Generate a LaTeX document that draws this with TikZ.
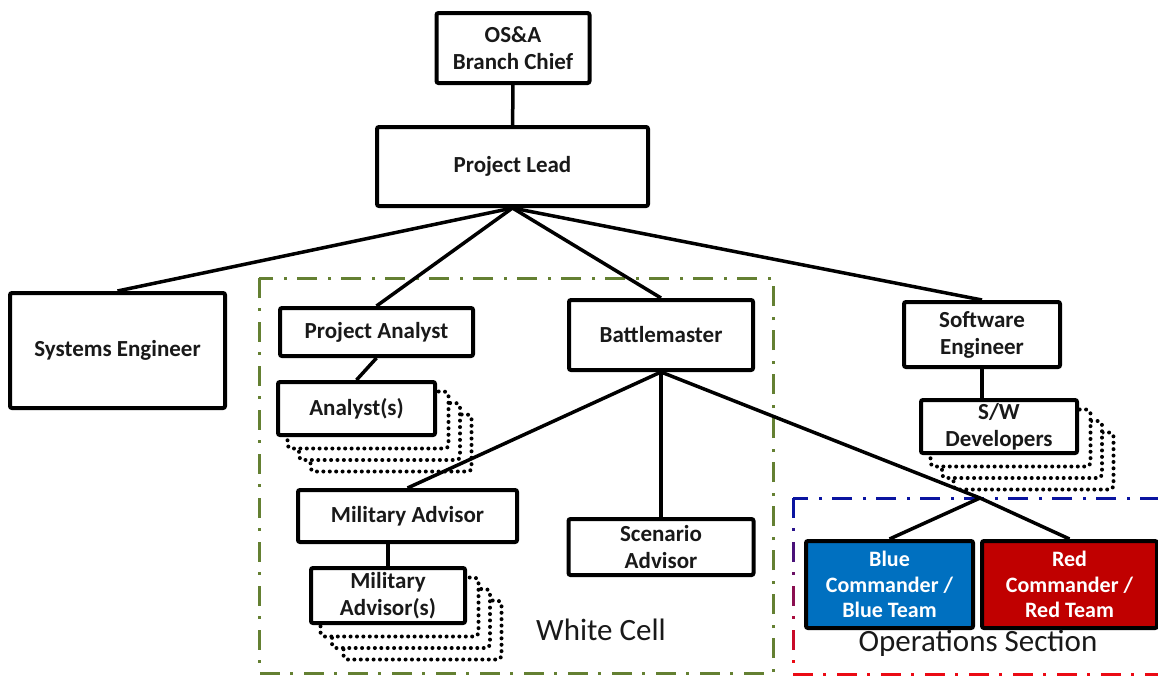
\documentclass[tikz,border=0pt]{standalone}
\usepackage{fontspec}
\setmainfont{Carlito}
\usepackage{xcolor}
\definecolor{CellGreen}{RGB}{100,128,50}
\definecolor{OpsBlue}{RGB}{10,20,160}
\definecolor{OpsRed}{RGB}{235,10,20}
\definecolor{TeamBlue}{RGB}{0,112,192}
\definecolor{TeamRed}{RGB}{192,0,0}
\usepackage{tikz}
\usetikzlibrary{
  positioning,
  calc,
  backgrounds
}
\tikzset{
  % Standard role box
  rolebox/.style={
    draw=black,
    line width=4pt,
    fill=white,
    rounded corners=2pt,
    inner sep=0pt,
    align=center,
    font=\fontsize{23}{27}\selectfont\bfseries,
    text=black!90
  },
  % Team boxes (filled)
  teambox/.style={rolebox, text=white, font=\fontsize{22}{25.5}\selectfont\bfseries},
  % Dotted copies behind a box
  stackcopy/.style={
    draw=black,
    line width=4pt,
    line cap=round,
    dash pattern=on 0pt off 6.4pt,
    fill=white,
    rounded corners=4pt
  },
  % Standard connector
  link/.style={
    draw=black,
    line width=3.5pt
  },
  % Group frames
  cellframe/.style={
    line width=3pt,
    dash pattern=on 20pt off 10pt on 3pt off 11pt
  },
  % Group label
  glabel/.style={
    font=\fontsize{31}{34}\selectfont,
    text=black!90
  }
}

\begin{document}
\begin{tikzpicture}[x=1pt,y=-1pt]
  \useasboundingbox (0,0) rectangle (1158,675);
  % group frames
  \draw[cellframe, draw=CellGreen] (259,278) rectangle (773,673);
  \draw[cellframe, draw=OpsBlue] (1160,498) -- (793,498);
  \foreach \i in {0,...,7} {
    \pgfmathtruncatemacro\p{\i*100/7}
    \pgfmathtruncatemacro\ph{22*\i}
    \draw[cellframe, draw=OpsRed!\p!OpsBlue, dash phase=\ph pt] (793,{498+22*\i}) -- (793,{520+22*\i});
  }
  \draw[cellframe, draw=OpsRed] (793,674) -- (1160,674);

  % boxes
  \node[rolebox, minimum width=153, minimum height=70] (chief) at (513,48) {OS\&A\\Branch Chief};
  \node[rolebox, minimum width=271, minimum height=79] (lead) at (512.5,166.5) {Project Lead};
  \node[rolebox, minimum width=215, minimum height=115] (syseng) at (117.5,350.5) {Systems Engineer};
  \node[rolebox, minimum width=193, minimum height=48] (panalyst) at (376.5,332) {Project Analyst};
  \node[rolebox, minimum width=184, minimum height=70] (battle) at (661,335) {Battlemaster};
  \node[rolebox, minimum width=156, minimum height=65] (swe) at (982,334.5) {Software\\Engineer};
  \node[rolebox, minimum width=157, minimum height=53] (analysts) at (356.5,408.5) {Analyst(s)};
  \node[rolebox, minimum width=156, minimum height=53] (swdev) at (999,426.5) {S/W\\Developers};
  \node[rolebox, minimum width=219, minimum height=52] (mil) at (407.5,516) {Military Advisor};
  \node[rolebox, minimum width=185, minimum height=56] (scen) at (661,547) {Scenario\\Advisor};
  \node[rolebox, minimum width=154, minimum height=55] (mils) at (388,595.5) {Military\\Advisor(s)};
  \node[teambox, fill=TeamBlue, minimum width=167, minimum height=87] (blue) at (889.5,584.5) {Blue\\Commander /\\Blue Team};
  \node[teambox, fill=TeamRed, minimum width=175, minimum height=87] (red) at (1069.5,584.5) {Red\\Commander /\\Red Team};
  \coordinate (ops) at (980,498);

  % stacked copies
  \begin{scope}[on background layer]
    \foreach \b in {analysts,swdev,mils} {
      \foreach \k in {3,2,1} {
        \draw[stackcopy] ($(\b.north west)+(11.5*\k,11.5*\k)$) rectangle ($(\b.south east)+(11.5*\k,11.5*\k)$);
      }
    }
  \end{scope}

  % connectors
  \draw[link] (chief) -- (lead);
  \foreach \t in {syseng,panalyst,battle,swe}
    \draw[link] (lead.south) -- (\t.north);
  \draw[link] (panalyst.south) -- (analysts.north);
  \draw[link] (swe.south) -- (swe.south |- swdev.north);
  \draw[link] (battle.south) -- (mil.north);
  \draw[link] (battle.south) -- (scen.north);
  \draw[link] (mils.north) -- (mils.north |- mil.south);
  \draw[link] (battle.south) -- (ops) -- (red.north);
  \draw[link] (ops) -- (blue.north);

  % labels
  \node[glabel] (whitecell) at (601,630) {White Cell};
  \node[glabel] (opssection) at (978,643) {Operations Section};
\end{tikzpicture}
\end{document}
